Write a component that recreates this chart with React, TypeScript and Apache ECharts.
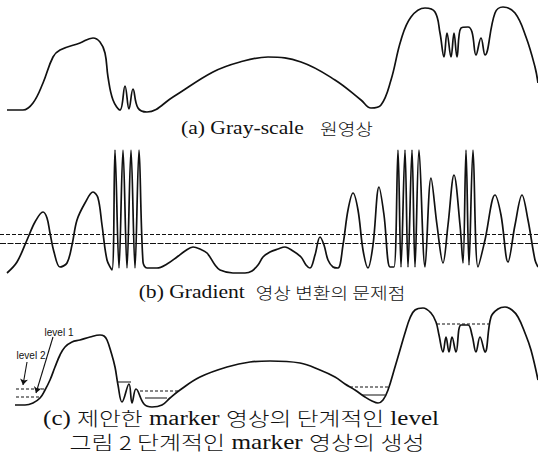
import React, { useEffect, useRef } from "react";
import * as echarts from "echarts";

// (a) gray-scale profile: [position, intensity]
const grayCurve: number[][] = [
  [7, 10], [23, 10], [33, 17], [43, 37], [53, 63], [60, 70], [80, 77], [93, 82], [100, 78],
  [105, 67], [108, 43], [113, 20], [120, 10], [125, 34], [129, 11], [133, 31], [138, 12],
  [147, 8], [173, 23], [213, 48], [240, 58], [268, 63], [301, 58], [335, 40], [361, 20],
  [371, 12], [381, 15], [391, 40], [401, 80], [411, 103], [425, 112], [435, 108], [440, 87],
  [444, 63], [447, 87], [451, 63], [454, 87], [457, 63], [461, 92], [468, 93], [472, 88],
  [476, 65], [481, 82], [485, 65], [495, 107], [503, 113], [515, 107], [526, 83], [535, 53],
  [538, 37],
];

// (b) gradient profile
const gradientCurve: number[][] = [
  [7, 2], [17, 13], [27, 35], [35, 53], [43, 63], [47, 57], [50, 42], [54, 23], [60, 8],
  [67, 12], [72, 30], [77, 55], [85, 72], [93, 83], [98, 77], [102, 50], [107, 15], [112, 5],
  [115, 125], [119, 7], [123, 125], [127, 7], [131, 125], [135, 7], [139, 125], [143, 13],
  [147, 7], [157, 7], [167, 11], [177, 18], [185, 24], [193, 28], [200, 26], [207, 22],
  [215, 10], [220, 5], [233, 2], [245, 2], [252, 4], [258, 10], [263, 18], [270, 23],
  [278, 26], [285, 28], [293, 24], [301, 18], [306, 10], [310, 7], [315, 20], [320, 38],
  [324, 30], [328, 15], [333, 8], [338, 7], [343, 30], [348, 65], [353, 82], [358, 65],
  [363, 25], [368, 7], [373, 30], [379, 88], [384, 60], [390, 8], [394, 8], [398, 125],
  [401, 8], [405, 125], [408, 8], [412, 125], [415, 8], [419, 125], [425, 8], [431, 97],
  [437, 50], [443, 12], [448, 50], [454, 100], [460, 50], [463, 12], [466, 125], [469, 10],
  [473, 125], [478, 8], [485, 35], [495, 80], [501, 60], [508, 13], [515, 50], [522, 80],
  [528, 55], [535, 15], [538, 8],
];
const gradientThresholds: number[] = [41, 32];

// (c) marker profile
const markerCurve: number[][] = [
  [15, 5], [25, 5], [33, 7], [40, 12], [45, 20], [50, 30], [55, 43], [60, 55], [65, 63],
  [72, 68], [80, 70], [90, 73], [100, 75], [104, 74], [107, 70], [111, 58], [115, 43],
  [118, 25], [122, 8], [129, 26], [132, 7], [136, 21], [144, 6], [152, 3], [162, 5],
  [170, 12], [180, 20], [200, 33], [227, 43], [250, 48], [270, 49], [300, 47], [320, 40],
  [335, 33], [345, 26], [355, 20], [365, 13], [372, 9], [378, 7], [383, 10], [388, 20],
  [395, 43], [400, 60], [405, 77], [410, 92], [415, 100], [423, 102], [431, 97], [436, 88],
  [439, 75], [443, 58], [446, 73], [449, 58], [452, 73], [456, 58], [461, 85], [468, 85],
  [472, 75], [476, 58], [480, 73], [485, 58], [491, 93], [498, 101], [505, 103], [512, 100],
  [518, 93], [525, 77], [531, 60], [538, 30],
];
// [start, end, level]
const dashedLevels: number[][] = [
  [16, 45, 21], [16, 40, 13], [140, 178, 19], [350, 389, 23], [437, 489, 86],
];
const solidLevels: number[][] = [
  [118, 131, 28], [145, 167, 12], [362, 385, 15],
];
const levelNames: string[] = ["level 1", "level 2"];
// [fromX, fromY, toX, toY]
const levelArrows: number[][] = [
  [53, 73, 36, 17],
  [27, 48, 23, 25],
];

const captionA: string[][] = [["s", "(a) Gray-scale"], ["g", "   "], ["k", "원영상"]];
const captionB: string[][] = [["s", "(b) Gradient"], ["g", "  "], ["k", "영상 변환의 문제점"]];
const captionC: string[][] = [
  ["s", "(c) "], ["k", "제안한"], ["s", " marker "], ["k", "영상의 단계적인"], ["s", " level"],
];
const captionFig: string[][] = [["k", "그림 2 단계적인"], ["s", " marker "], ["k", "영상의 생성"]];

const SERIF = "Liberation Serif";
const KR = "Noto Sans CJK KR";
const INK = "#111";

function rich(parts: string[][]) {
  return parts.map(([k, t]) => `{${k}|${t}}`).join("");
}

export default function App() {
  const ref = useRef<HTMLDivElement>(null);
  useEffect(() => {
    document.body.style.margin = "0";
    const chart = echarts.init(ref.current!, null, { renderer: "svg" });
    const curveLine = { color: INK, width: 1.7 };
    const segSeries = (segs: number[][], dashed: boolean) =>
      segs.map((s) => ({
        type: "line",
        xAxisIndex: 2,
        yAxisIndex: 2,
        data: [[s[0], s[2]], [s[1], s[2]]],
        showSymbol: false,
        silent: true,
        lineStyle: { color: INK, width: 1.1, type: dashed ? [3, 2] : "solid" },
      }));
    const richStyles = (sz: number, ksz: number) => ({
      s: { fontFamily: SERIF, fontSize: sz, fill: INK },
      g: { fontFamily: SERIF, fontSize: sz, fill: INK },
      k: { fontFamily: KR, fontSize: ksz, fontWeight: 300, fill: INK },
    });
    const caption = (parts: string[][], x: number, y: number, sz: number, ksz: number, sx: number) => ({
      type: "text",
      x,
      y,
      scaleX: sx,
      silent: true,
      style: {
        text: rich(parts),
        rich: richStyles(sz, ksz),
        align: "center",
        verticalAlign: "middle",
        fill: INK,
      },
    });
    chart.setOption({
      animation: false,
      backgroundColor: "#fff",
      grid: [
        { left: 0, width: 538, top: 0, height: 120 },
        { left: 0, width: 538, top: 145, height: 130 },
        { left: 0, width: 538, top: 300, height: 110 },
      ],
      xAxis: [0, 1, 2].map((i) => ({ type: "value", gridIndex: i, min: 0, max: 538, show: false })),
      yAxis: [
        { type: "value", gridIndex: 0, min: 0, max: 120, show: false },
        { type: "value", gridIndex: 1, min: 0, max: 130, show: false },
        { type: "value", gridIndex: 2, min: 0, max: 110, show: false },
      ],
      series: [
        {
          type: "line", xAxisIndex: 0, yAxisIndex: 0, data: grayCurve, smooth: 0.4,
          showSymbol: false, lineStyle: curveLine,
        },
        {
          type: "line", xAxisIndex: 1, yAxisIndex: 1, data: gradientCurve, smooth: 0.35,
          showSymbol: false, lineStyle: curveLine,
          markLine: {
            silent: true,
            symbol: "none",
            label: { show: false },
            data: gradientThresholds.map((v, i) => ({
              yAxis: v,
              lineStyle: { color: INK, width: 1.1, type: i === 0 ? [4, 2] : [6, 1.5] },
            })),
          },
        },
        {
          type: "line", xAxisIndex: 2, yAxisIndex: 2, data: markerCurve, smooth: 0.4,
          showSymbol: false, lineStyle: curveLine,
          markLine: {
            silent: true,
            symbol: ["none", "arrow"],
            symbolSize: 6,
            label: { show: false },
            lineStyle: { color: INK, width: 1.1, type: "solid" },
            data: levelArrows.map((a) => [{ coord: [a[0], a[1]] }, { coord: [a[2], a[3]] }]),
          },
        },
        ...segSeries(dashedLevels, true),
        ...segSeries(solidLevels, false),
      ],
      graphic: [
        caption(captionA, 277, 128, 18, 16, 1.2),
        caption(captionB, 272, 292, 18, 16, 1.2),
        caption(captionC, 241, 418, 20, 19, 1.25),
        caption(captionFig, 247, 442, 20, 19, 1.26),
        {
          type: "text", x: 59, y: 332, silent: true,
          style: { text: levelNames[0], fontFamily: "Liberation Sans", fontSize: 10, fill: INK, align: "center", verticalAlign: "middle" },
        },
        {
          type: "text", x: 31, y: 355, silent: true,
          style: { text: levelNames[1], fontFamily: "Liberation Sans", fontSize: 10, fill: INK, align: "center", verticalAlign: "middle" },
        },
      ],
    });
    return () => chart.dispose();
  }, []);
  return (
    <div
      ref={ref}
      style={{ position: "fixed", left: 0, top: 0, width: 538, height: 465, background: "#fff" }}
    />
  );
}
